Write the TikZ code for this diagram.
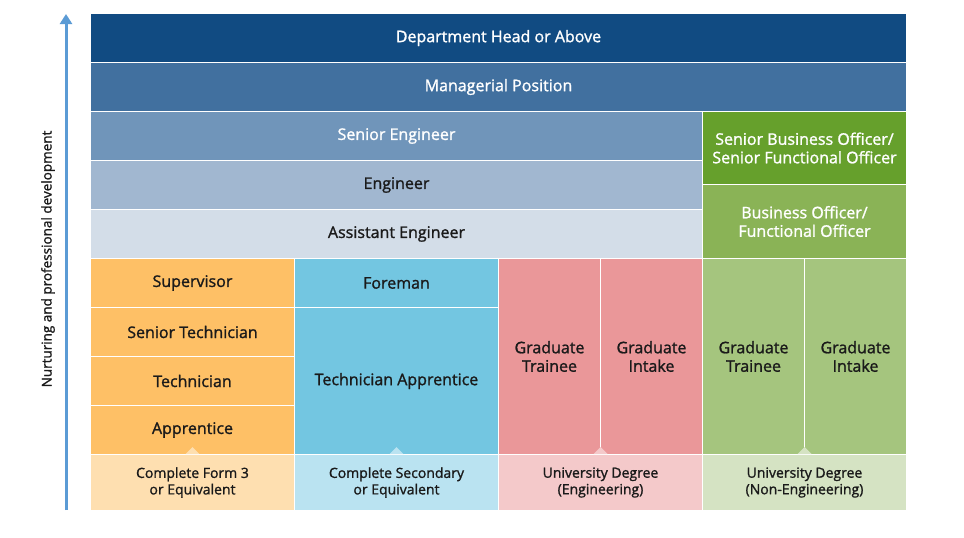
\documentclass[tikz,border=0pt]{standalone}
\usepackage{fontspec}
\setmainfont{Open Sans}[RawFeature={embolden=1.3}]
\usetikzlibrary{arrows.meta,calc}
\definecolor{cdept}{HTML}{114B82}
\definecolor{cmgr}{HTML}{41709F}
\definecolor{cseng}{HTML}{7095BA}
\definecolor{ceng}{HTML}{A1B7D0}
\definecolor{caeng}{HTML}{D3DDE8}
\definecolor{csbo}{HTML}{66A02C}
\definecolor{cbo}{HTML}{8AB356}
\definecolor{cgreen}{HTML}{A5C57E}
\definecolor{cgreenb}{HTML}{D5E3C3}
\definecolor{corange}{HTML}{FEC066}
\definecolor{corangeb}{HTML}{FEDFB0}
\definecolor{ccyan}{HTML}{73C6E1}
\definecolor{ccyanb}{HTML}{BAE3F1}
\definecolor{cred}{HTML}{EA9799}
\definecolor{credb}{HTML}{F4C9CA}
\definecolor{carrow}{HTML}{5B9BD5}
\definecolor{ctxt}{HTML}{1A1A1A}
\begin{document}
\begin{tikzpicture}[x=1pt,y=-1pt,
  cell/.style={draw=white, line width=1pt, anchor=north west, inner sep=0pt,
    align=center, font=\fontsize{16}{18.5}\selectfont, text=ctxt},
  wide/.style={minimum width=816pt, minimum height=49pt},
  blue3/.style={minimum width=612pt, minimum height=49pt},
  col/.style={minimum width=204pt, minimum height=49pt},
  half/.style={minimum width=102pt, minimum height=196pt},
  base/.style={cell, minimum width=204pt, minimum height=56pt,
    font=\fontsize{14}{16.5}\selectfont}]
\useasboundingbox[fill=white] (0,0) rectangle (964,538);
% top rows
\node[cell, wide, fill=cdept, text=white] (dept) at (90,13) {Department Head or Above};
\node[cell, wide, fill=cmgr, text=white] (mgr) at (90,62) {Managerial Position};
\node[cell, blue3, fill=cseng, text=white] (seng) at (90,111) {Senior Engineer};
\node[cell, blue3, fill=ceng] (eng) at (90,160) {Engineer};
\node[cell, blue3, fill=caeng] (aeng) at (90,209) {Assistant Engineer};
\node[cell, minimum width=204pt, minimum height=73pt, fill=csbo, text=white] (sbo) at (702,111) {Senior Business Officer/\\Senior Functional Officer};
\node[cell, minimum width=204pt, minimum height=74pt, fill=cbo, text=white] (bo) at (702,184) {Business Officer/\\Functional Officer};
% column 1
\node[cell, col, fill=corange] (sup) at (90,258) {Supervisor};
\node[cell, col, fill=corange] (stech) at (90,307) {Senior Technician};
\node[cell, col, fill=corange] (tech) at (90,356) {Technician};
\node[cell, col, fill=corange] (app) at (90,405) {Apprentice};
% column 2
\node[cell, col, fill=ccyan] (fore) at (294,258) {Foreman};
\node[cell, minimum width=204pt, minimum height=147pt, fill=ccyan] (tapp) at (294,307) {Technician Apprentice};
% column 3 and 4
\node[cell, half, fill=cred] (gt1) at (498,258) {Graduate\\Trainee};
\node[cell, half, fill=cred] (gi1) at (600,258) {Graduate\\Intake};
\node[cell, half, fill=cgreen] (gt2) at (702,258) {Graduate\\Trainee};
\node[cell, half, fill=cgreen] (gi2) at (804,258) {Graduate\\Intake};
% base row
\node[base, fill=corangeb] (b1) at (90,454) {Complete Form 3\\or Equivalent};
\node[base, fill=ccyanb] (b2) at (294,454) {Complete Secondary\\or Equivalent};
\node[base, fill=credb] (b3) at (498,454) {University Degree\\(Engineering)};
\node[base, fill=cgreenb] (b4) at (702,454) {University Degree\\(Non-Engineering)};
% notches
\fill[corangeb] ($(b1.north)+(-7,0)$) -- ($(b1.north)+(0,-7)$) -- ($(b1.north)+(7,0)$) -- cycle;
\fill[ccyanb] ($(b2.north)+(-7,0)$) -- ($(b2.north)+(0,-7)$) -- ($(b2.north)+(7,0)$) -- cycle;
\fill[credb] ($(b3.north)+(-7,0)$) -- ($(b3.north)+(0,-7)$) -- ($(b3.north)+(7,0)$) -- cycle;
\fill[cgreenb] ($(b4.north)+(-7,0)$) -- ($(b4.north)+(0,-7)$) -- ($(b4.north)+(7,0)$) -- cycle;
% arrow
\coordinate (abot) at (66,510);
\coordinate (atop) at (66,14);
\draw[carrow, line width=3pt, -{Triangle[width=12pt,length=10pt]}] (abot) -- (atop);
\node[rotate=90, font=\fontsize{13.5}{15}\selectfont, text=ctxt] (lbl) at (48,259) {Nurturing and professional development};
\end{tikzpicture}
\end{document}
